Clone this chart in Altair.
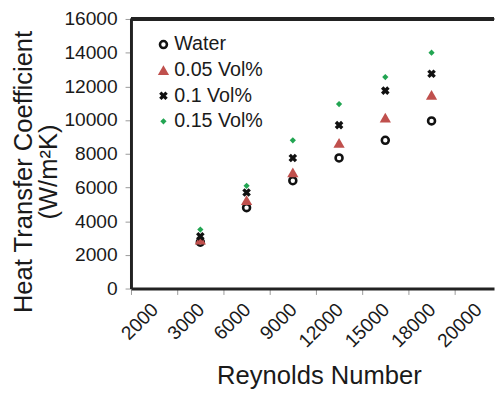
import altair as alt
import pandas as pd

# ---- data ----
reynolds = [4500, 7500, 10500, 13500, 16500, 19000]
series_names = ["Water", "0.05 Vol%", "0.1 Vol%", "0.15 Vol%"]
water = [2750, 4800, 6400, 7750, 8800, 9950]
vol_005 = [2900, 5250, 6900, 8650, 10150, 11500]
vol_01 = [3100, 5700, 7750, 9700, 11750, 12750]
vol_015 = [3500, 6100, 8800, 10950, 12550, 14000]

x_tick_values = [2000, 3000, 6000, 9000, 12000, 15000, 18000, 20000]
y_tick_values = [0, 2000, 4000, 6000, 8000, 10000, 12000, 14000, 16000]

rows = []
for name, vals in zip(series_names, [water, vol_005, vol_01, vol_015]):
    for re_, v in zip(reynolds, vals):
        rows.append({"Re": re_, "h": v, "series": name})
df = pd.DataFrame(rows)

W, H = 369, 274
step = 47
x_domain = x_tick_values + [21700]
x_range = [i * step for i in range(len(x_tick_values))] + [W]

x_path = "M-0.75,-0.75L0.75,0.75M-0.75,0.75L0.75,-0.75"

legend_cfg = dict(
    title=None, orient="none", legendX=23, legendY=16, padding=0,
    labelFontSize=20, labelFont="Liberation Sans", labelColor="#1a1a1a",
    labelOffset=1, rowPadding=6,
)

y_scale = alt.Scale(domain=[0, 16000], nice=False, zero=True)
y_axis = alt.Axis(
    values=y_tick_values, format="d",
    title=["Heat Transfer Coefficient", "(W/m²K)"],
    labelFontSize=19.5, labelPadding=8, labelOverlap=False,
    titleFontSize=26, titleLineHeight=25, titleAngle=270,
    titleX=-109, titleY=155, titleAlign="center", titleBaseline="middle",
)

points = alt.Chart(df).mark_point(opacity=1).encode(
    x=alt.X(
        "Re:Q",
        scale=alt.Scale(domain=x_domain, range=x_range, zero=False, nice=False),
        axis=alt.Axis(
            values=x_tick_values, format="d", title="Reynolds Number",
            labelAngle=315, labelAlign="right", labelBaseline="middle",
            labelOffset=24, labelPadding=12, labelFontSize=19.5, labelOverlap=False,
            titleFontSize=26, titleX=191, titleY=97, titleAlign="center",
            titleBaseline="alphabetic",
        ),
    ),
    y=alt.Y("h:Q", scale=y_scale, axis=y_axis),
    shape=alt.Shape("series:N", scale=alt.Scale(domain=series_names, range=["circle", "triangle-up", x_path, "diamond"]), legend=alt.Legend(**legend_cfg)),
    fill=alt.Fill("series:N", scale=alt.Scale(domain=series_names, range=["transparent", "#c0504d", "transparent", "#22a552"]), legend=alt.Legend(**legend_cfg)),
    stroke=alt.Stroke("series:N", scale=alt.Scale(domain=series_names, range=["#111111", "#c0504d", "#111111", "#22a552"]), legend=alt.Legend(**legend_cfg)),
    strokeWidth=alt.StrokeWidth("series:N", scale=alt.Scale(type="ordinal", domain=series_names, range=[2.6, 0.01, 3.4, 0.01]), legend=alt.Legend(**legend_cfg)),
    size=alt.Size("series:N", scale=alt.Scale(type="ordinal", domain=series_names, range=[50, 130, 72, 40]), legend=alt.Legend(**legend_cfg)),
)

top_rule = alt.Chart(df).mark_rule(color="#222", strokeWidth=3).encode(
    y=alt.YDatum(16000, scale=y_scale, axis=y_axis)
)

chart = alt.layer(top_rule, points).properties(
    width=W, height=H,
    padding={"left": 125, "top": 8, "right": 1, "bottom": 102},
    autosize=alt.AutoSizeParams(type="none"),
    background="white",
).configure_view(stroke=None).configure_axis(
    domainColor="#222", domainWidth=3, tickColor="#999", tickSize=6,
    grid=False, labelFont="Liberation Sans", titleFont="Liberation Sans",
    labelColor="#1a1a1a", titleColor="#1a1a1a", titleFontWeight="normal",
)

chart.save("out.html", embed_options={"renderer": "svg", "actions": False})
